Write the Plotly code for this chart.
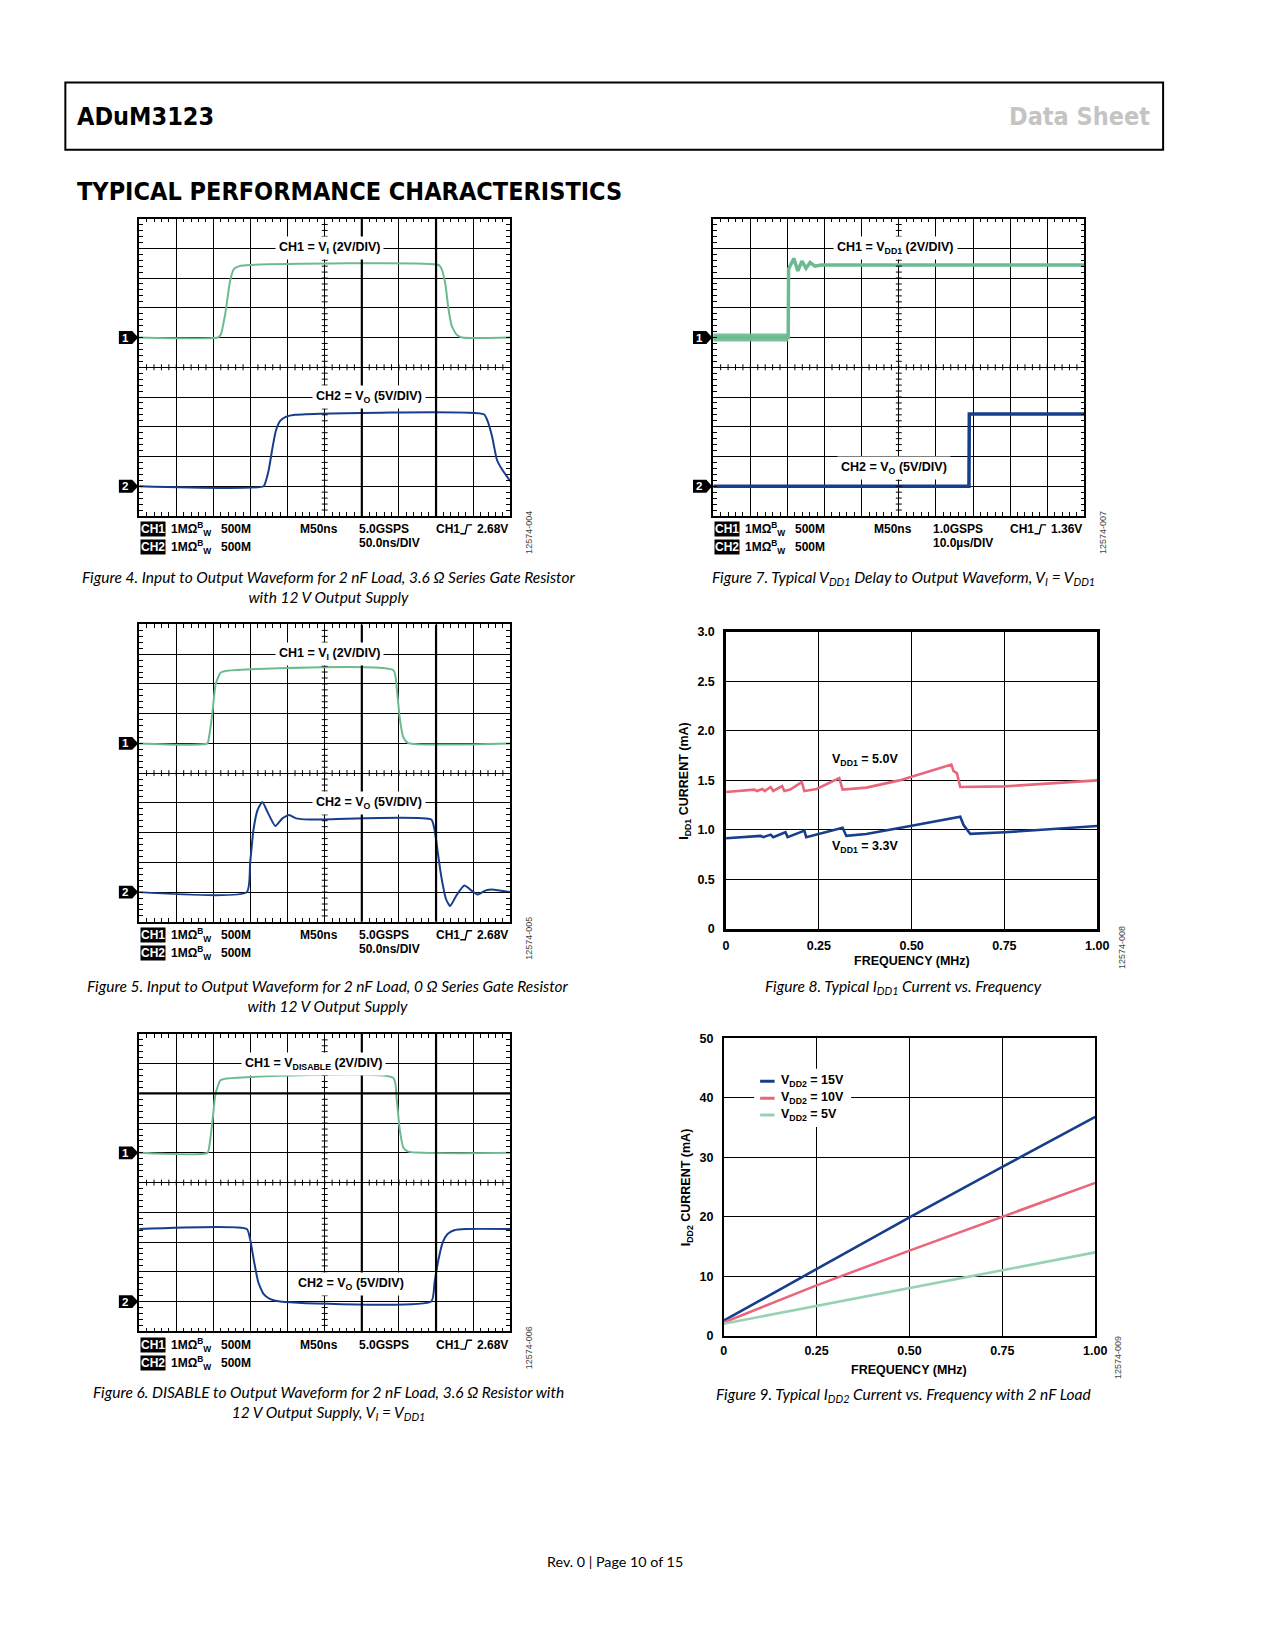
"""ADuM3123 data sheet page 10: typical performance characteristics (Plotly)."""

import numpy as np
import plotly.graph_objects as go

PAGE_W, PAGE_H = 1275, 1650
BODY = 8  # default <body> margin of the exported page
W, H = PAGE_W - 2 * BODY, PAGE_H - 2 * BODY

# --------------------------------------------------------------------------- #
# Data — scope traces are in screen divisions (10 x 10 graticule, 0 = bottom)
# --------------------------------------------------------------------------- #
F4_CH1_T = [0, 2.12, 2.2, 2.32, 2.45, 2.55, 2.7, 3.0, 8.07, 8.15, 8.25, 8.33, 8.42, 8.55, 8.7, 10]
F4_CH1_V = [6.0, 6.0, 6.1, 6.8, 7.9, 8.3, 8.4, 8.44, 8.44, 8.3, 7.8, 7.0, 6.4, 6.1, 6.0, 6.0]
F4_CH2_T = [0, 3.35, 3.42, 3.5, 3.58, 3.68, 3.8, 3.95, 4.2, 9.29, 9.38, 9.51, 9.64, 9.78, 10]
F4_CH2_V = [1.0, 1.0, 1.2, 1.6, 2.2, 2.85, 3.2, 3.33, 3.4, 3.42, 3.22, 2.67, 1.89, 1.56, 1.17]

F5_CH1_T = [0, 1.84, 1.88, 1.97, 2.06, 2.19, 2.37, 6.85, 6.94, 7.02, 7.12, 7.25, 10]
F5_CH1_V = [6.0, 6.0, 6.2, 6.98, 7.98, 8.37, 8.44, 8.46, 7.87, 6.87, 6.2, 6.01, 6.0]
F5_CH2_T = [0, 2.9, 2.99, 3.08, 3.19, 3.32, 3.48, 3.67, 3.86, 4.04, 4.23, 4.6,
            7.87, 7.96, 8.05, 8.14, 8.27, 8.38, 8.54, 8.76, 8.98, 9.11, 9.34, 9.51, 10]
F5_CH2_V = [1.0, 1.0, 1.98, 3.09, 3.76, 4.03, 3.64, 3.22, 3.48, 3.59, 3.48, 3.44,
            3.44, 3.09, 2.31, 1.53, 0.76, 0.53, 0.87, 1.22, 1.03, 0.92, 1.06, 1.09, 1.0]

F6_CH1_T = [0, 1.84, 1.9, 1.97, 2.06, 2.19, 2.37, 6.85, 6.94, 7.02, 7.12, 7.25, 10]
F6_CH1_V = [6.0, 6.0, 6.3, 7.0, 8.0, 8.44, 8.5, 8.52, 7.8, 6.8, 6.17, 6.04, 6.0]
F6_CH2_T = [0, 2.9, 2.99, 3.1, 3.21, 3.35, 3.52, 3.8, 7.87, 7.96, 8.05, 8.18, 8.31, 8.49, 8.8, 10]
F6_CH2_V = [3.44, 3.44, 3.1, 2.32, 1.65, 1.26, 1.09, 1.0, 1.0, 1.65, 2.32, 2.99, 3.27, 3.4, 3.44, 3.44]

F7_CH1_T = [0, 2.02, 2.03, 2.17, 2.28, 2.39, 2.5, 2.61, 2.74, 2.9, 10]
F7_CH1_V = [6.0, 6.0, 8.3, 8.66, 8.24, 8.57, 8.33, 8.52, 8.4, 8.44, 8.44]
F7_CH2_T = [0, 6.89, 6.9, 10]
F7_CH2_V = [1.0, 1.0, 3.43, 3.43]

CH_REF = [6.0, 1.0]  # ground-reference marker levels for CH1 / CH2

# Figure 8 — IDD1 vs frequency
F8_FREQ_5V = [0, 0.022, 0.058, 0.076, 0.083, 0.098, 0.104, 0.12, 0.127, 0.151, 0.157, 0.173,
              0.204, 0.211, 0.244, 0.305, 0.314, 0.378, 0.467, 0.5, 0.555, 0.607, 0.613,
              0.622, 0.631, 0.751, 1.0]
F8_IDD1_5V = [1.383, 1.39, 1.397, 1.407, 1.393, 1.413, 1.393, 1.433, 1.393, 1.443, 1.393, 1.407,
              1.483, 1.393, 1.413, 1.523, 1.407, 1.427, 1.50, 1.54, 1.60, 1.66, 1.593,
              1.573, 1.433, 1.44, 1.5]
F8_FREQ_33V = [0, 0.058, 0.093, 0.1, 0.12, 0.127, 0.16, 0.166, 0.211, 0.216, 0.314, 0.324,
               0.378, 0.5, 0.631, 0.64, 0.658, 0.751, 1.0]
F8_IDD1_33V = [0.917, 0.927, 0.94, 0.927, 0.953, 0.927, 0.977, 0.927, 0.993, 0.927, 1.023, 0.94,
               0.96, 1.043, 1.133, 1.05, 0.96, 0.977, 1.04]

# Figure 9 — IDD2 vs frequency, 2 nF load
F9_FREQ = [0, 0.25, 0.5, 0.75, 1.0]
F9_IDD2_15V = [2.5, 11.2, 19.9, 28.4, 36.8]
F9_IDD2_10V = [2.2, 8.45, 14.3, 20.0, 25.7]
F9_IDD2_5V = [2.0, 5.0, 8.06, 11.0, 14.0]

GREEN = "#6cbb90"
NAVY = "#173e8c"
PINK = "#e8677b"
LIGHT_GREEN = "#98d2b4"

ARIAL = "Liberation Sans, Arial, sans-serif"
MYRIAD = "Lato, Open Sans, sans-serif"
CONDENSED = "Liberation Sans Narrow, DejaVu Sans Condensed, Arial Narrow, sans-serif"


def px(x):
    """Page pixel (x) -> paper fraction of the figure."""
    return (x - BODY) / W


def py(y):
    """Page pixel (y, downwards) -> paper fraction of the figure."""
    return 1 - (y - BODY) / H


def keys(n):
    s = "" if n == 1 else str(n)
    return f"xaxis{s}", f"yaxis{s}", f"x{s}", f"y{s}"


fig = go.Figure()
shapes, notes = [], []
layout = dict(
    width=W, height=H, autosize=False, margin=dict(l=0, r=0, t=0, b=0),
    paper_bgcolor="white", plot_bgcolor="white", showlegend=False,
    font=dict(family=ARIAL, color="black"),
)


def text(x, y, s, size=12, bold=True, family=ARIAL, color="black", xanchor="left", **kw):
    notes.append(dict(
        x=px(x), y=py(y), xref="paper", yref="paper", text=s, showarrow=False,
        xanchor=xanchor, yanchor=kw.pop("yanchor", "middle"),
        font=dict(family=family, size=size, color=color, weight="bold" if bold else "normal"),
        **kw,
    ))


# --------------------------------------------------------------------------- #
# Oscilloscope panels
# --------------------------------------------------------------------------- #
SCOPE_W, SCOPE_H = 375.6, 300.0
DIV_X, DIV_Y = SCOPE_W / 10, SCOPE_H / 10

scopes = [
    dict(n=1, left=137.7, top=213.3, ch1=(F4_CH1_T, F4_CH1_V), ch2=(F4_CH2_T, F4_CH2_V),
         l1="CH1 = V<sub>I</sub> (2V/DIV)", p1=(5.12, 9.0), l2="CH2 = V<sub>O</sub> (5V/DIV)", p2=(6.18, 4.0),
         rate="5.0GSPS", per_div="50.0ns/DIV", trig="2.68V", fid="12574-004", thick=True, width=2.0),
    dict(n=2, left=718.7, top=213.3, ch1=(F7_CH1_T, F7_CH1_V), ch2=(F7_CH2_T, F7_CH2_V),
         l1="CH1 = V<sub>DD1</sub> (2V/DIV)", p1=(4.9, 9.0), l2="CH2 = V<sub>O</sub> (5V/DIV)", p2=(4.88, 1.6),
         rate="1.0GSPS", per_div="10.0µs/DIV", trig="1.36V", fid="12574-007", thick=False, width=3.5),
    dict(n=3, left=137.7, top=622.7, ch1=(F5_CH1_T, F5_CH1_V), ch2=(F5_CH2_T, F5_CH2_V),
         l1="CH1 = V<sub>I</sub> (2V/DIV)", p1=(5.13, 9.0), l2="CH2 = V<sub>O</sub> (5V/DIV)", p2=(6.19, 4.0),
         rate="5.0GSPS", per_div="50.0ns/DIV", trig="2.68V", fid="12574-005", thick=True, width=2.0),
    dict(n=5, left=137.7, top=1035.7, ch1=(F6_CH1_T, F6_CH1_V), ch2=(F6_CH2_T, F6_CH2_V),
         l1="CH1 = V<sub>DISABLE</sub> (2V/DIV)", p1=(4.71, 9.0), l2="CH2 = V<sub>O</sub> (5V/DIV)", p2=(5.71, 1.6),
         rate="5.0GSPS", per_div="", trig="2.68V", fid="12574-006", thick=True, width=2.0),
]

for sc in scopes:
    xk, yk, xr, yr = keys(sc["n"])
    left, top = sc["left"], sc["top"]
    bottom = top + SCOPE_H
    common = dict(
        range=[0, 10], dtick=1, tick0=0, showgrid=True, gridcolor="black", gridwidth=1,
        zeroline=False, showline=True, linecolor="black", linewidth=1.6, mirror="ticks",
        ticks="inside", ticklen=4, tickcolor="black", tickwidth=1, showticklabels=False,
        minor=dict(dtick=0.2, ticks="inside", ticklen=4, tickcolor="black", tickwidth=1, showgrid=False),
        fixedrange=True,
    )
    layout[xk] = dict(domain=[px(left), px(left + SCOPE_W)], anchor=yr, **common)
    layout[yk] = dict(domain=[py(bottom), py(top)], anchor=xr, **common)

    # ticks on the centre cross-hair
    steps = np.arange(0.2, 10, 0.2)
    path_v = "".join(f"M{5 - 0.08:.2f},{s:.2f}L{5 + 0.08:.2f},{s:.2f}" for s in steps)
    path_h = "".join(f"M{s:.2f},{5 - 0.1:.2f}L{s:.2f},{5 + 0.1:.2f}" for s in steps)
    for p in (path_v, path_h):
        shapes.append(dict(type="path", path=p, xref=xr, yref=yr, line=dict(color="black", width=1)))
    if sc["thick"]:  # heavier graticule lines seen in the scans
        for gx in (6, 8):
            shapes.append(dict(type="line", x0=gx, x1=gx, y0=0, y1=10, xref=xr, yref=yr,
                               line=dict(color="black", width=2.2)))
    if sc["n"] == 5:
        shapes.append(dict(type="line", x0=0, x1=10, y0=8, y1=8, xref=xr, yref=yr,
                           line=dict(color="black", width=2.2)))

    (t1, v1), (t2, v2) = sc["ch1"], sc["ch2"]
    smooth = "linear" if sc["n"] == 2 else "spline"
    if sc["n"] == 2:  # noisy pre-step supply band
        fig.add_trace(go.Scatter(x=t1[:2], y=v1[:2], mode="lines", xaxis=xr, yaxis=yr, hoverinfo="skip",
                                 opacity=0.9, line=dict(color=GREEN, width=8)))
    fig.add_trace(go.Scatter(x=t1, y=v1, mode="lines", xaxis=xr, yaxis=yr, hoverinfo="skip",
                             line=dict(color=GREEN, width=sc["width"], shape=smooth, smoothing=0.5)))
    fig.add_trace(go.Scatter(x=t2, y=v2, mode="lines", xaxis=xr, yaxis=yr, hoverinfo="skip",
                             line=dict(color=NAVY, width=sc["width"], shape=smooth, smoothing=0.5)))

    for label, (lx, ly) in ((sc["l1"], sc["p1"]), (sc["l2"], sc["p2"])):
        notes.append(dict(x=lx, y=ly, xref=xr, yref=yr, text=label, showarrow=False, bgcolor="white",
                          borderpad=3, font=dict(family=ARIAL, size=12.5, weight="bold")))

    # channel ground markers
    for num, lvl in zip(("1", "2"), CH_REF):
        yc = bottom - lvl * DIV_Y
        x0, x1, x2 = left - 20.5, left - 7, left - 1
        shapes.append(dict(
            type="path", xref="paper", yref="paper", fillcolor="black", line=dict(color="black", width=0),
            path=(f"M{px(x0)},{py(yc - 6.5)}L{px(x1)},{py(yc - 6.5)}L{px(x2)},{py(yc)}"
                  f"L{px(x1)},{py(yc + 6.5)}L{px(x0)},{py(yc + 6.5)}Z"),
        ))
        text(left - 14, yc, num, size=11.5, color="white", xanchor="center")

    # acquisition settings below the graticule
    r1, r2 = bottom + 13.5, bottom + 31.5
    for yrow, ch in ((r1, "CH1"), (r2, "CH2")):
        text(left + 0.5, yrow, ch, size=12, color="white", bgcolor="black", borderpad=0)
        text(left + 30, yrow, "1MΩ<sup>B</sup><sub>W</sub>", size=12)
        text(left + 81, yrow, "500M", size=12)
    text(left + 161, r1, "M50ns", size=12)
    text(left + 220, r1, sc["rate"], size=12)
    if sc["per_div"]:
        text(left + 220, r1 + 14, sc["per_div"], size=12)
    text(left + 298, r1, "CH1", size=12)
    gx = left + 325
    shapes.append(dict(
        type="path", xref="paper", yref="paper", line=dict(color="black", width=1.4),
        path=(f"M{px(gx)},{py(r1 + 4.5)}L{px(gx + 5)},{py(r1 + 4.5)}"
              f"L{px(gx + 7)},{py(r1 - 4.5)}L{px(gx + 12)},{py(r1 - 4.5)}"),
    ))
    text(left + SCOPE_W, r1, sc["trig"], size=12, xanchor="right")
    text(left + SCOPE_W + 19, bottom + 17, sc["fid"], size=9, bold=False, color="#444",
         xanchor="center", textangle=-90)

# --------------------------------------------------------------------------- #
# Figure 8 / Figure 9 — current vs frequency
# --------------------------------------------------------------------------- #
XTICKS = [0, 0.25, 0.5, 0.75, 1.0]
XTEXT = ["0", "0.25", "0.50", "0.75", "1.00"]


def line_axes(n, left, top, right, bottom, yrange, ydtick, ytext, frame):
    xk, yk, xr, yr = keys(n)
    tickfont = dict(family=ARIAL, size=12.5, weight="bold")
    common = dict(showgrid=True, gridcolor="black", gridwidth=1.2, zeroline=False, showline=True,
                  linecolor="black", linewidth=frame, mirror=True, ticks="", tickfont=tickfont,
                  fixedrange=True)
    layout[xk] = dict(domain=[px(left), px(right)], range=[0, 1], anchor=yr, tickvals=XTICKS,
                      ticktext=XTEXT, ticklabelstandoff=3, **common)
    yvals = list(np.arange(yrange[0], yrange[1] + ydtick / 2, ydtick))
    layout[yk] = dict(domain=[py(bottom), py(top)], range=yrange, anchor=xr, tickvals=yvals,
                      ticktext=ytext, ticklabelstandoff=6, **common)
    return xr, yr


x4, y4 = line_axes(4, 731.7, 630, 1107.3, 930, [0, 3], 0.5,
                   ["0", "0.5", "1.0", "1.5", "2.0", "2.5", "3.0"], 2.6)
fig.add_trace(go.Scatter(x=F8_FREQ_5V, y=F8_IDD1_5V, mode="lines", xaxis=x4, yaxis=y4, hoverinfo="skip",
                         line=dict(color=PINK, width=2.6)))
fig.add_trace(go.Scatter(x=F8_FREQ_33V, y=F8_IDD1_33V, mode="lines", xaxis=x4, yaxis=y4, hoverinfo="skip",
                         line=dict(color=NAVY, width=2.6)))
for lbl, yy in (("V<sub>DD1</sub> = 5.0V", 1.71), ("V<sub>DD1</sub> = 3.3V", 0.83)):
    notes.append(dict(x=0.375, y=yy, xref=x4, yref=y4, text=lbl, showarrow=False,
                      font=dict(family=ARIAL, size=12.5, weight="bold")))
text(690.5, 780, "I<sub>DD1</sub> CURRENT (mA)", size=12.5, xanchor="center", textangle=-90)
text(919.5, 962.5, "FREQUENCY (MHz)", size=12.5, xanchor="center")
text(1132.5, 949, "12574-008", size=9, bold=False, color="#444", xanchor="center", textangle=-90)

x6, y6 = line_axes(6, 729.3, 1040.3, 1105.3, 1340, [0, 50], 10,
                   ["0", "10", "20", "30", "40", "50"], 1.5)
series9 = [("15V", F9_IDD2_15V, NAVY), ("10V", F9_IDD2_10V, PINK), ("5V", F9_IDD2_5V, LIGHT_GREEN)]
for name, vals, col in series9:
    fig.add_trace(go.Scatter(x=F9_FREQ, y=vals, mode="lines", xaxis=x6, yaxis=y6, hoverinfo="skip",
                             line=dict(color=col, width=2.6)))
# hand-drawn legend box
shapes.append(dict(type="rect", x0=0.082, x1=0.343, y0=35.1, y1=44.9, xref=x6, yref=y6,
                   fillcolor="white", line=dict(width=0), layer="above"))
for i, (name, vals, col) in enumerate(series9):
    ly = 42.8 - i * 2.85
    shapes.append(dict(type="line", x0=0.098, x1=0.137, y0=ly, y1=ly, xref=x6, yref=y6,
                       line=dict(color=col, width=3), layer="above"))
    notes.append(dict(x=0.148, y=ly, xref=x6, yref=y6, xanchor="left", showarrow=False,
                      text=f"V<sub>DD2</sub> = {name}", font=dict(family=ARIAL, size=12.5, weight="bold")))
text(692.5, 1190, "I<sub>DD2</sub> CURRENT (mA)", size=12.5, xanchor="center", textangle=-90)
text(917.3, 1375, "FREQUENCY (MHz)", size=12.5, xanchor="center")
text(1129, 1362, "12574-009", size=9, bold=False, color="#444", xanchor="center", textangle=-90)

# --------------------------------------------------------------------------- #
# Page furniture: header, section title, captions, footer
# --------------------------------------------------------------------------- #
shapes.append(dict(type="rect", x0=px(63), x1=px(1174), y0=py(76), y1=py(144), xref="paper", yref="paper",
                   line=dict(color="black", width=2)))
text(73, 110, "ADuM3123", size=25, family=CONDENSED)
text(1163, 110, "Data Sheet", size=25, family=CONDENSED, color="#c4c4c4", xanchor="right")
text(73, 186, "TYPICAL PERFORMANCE CHARACTERISTICS", size=25, family=CONDENSED)

captions = [
    (329, 584.5, "Figure 4. Input to Output Waveform for 2 nF Load, 3.6 Ω Series Gate Resistor<br>"
                 "with 12 V Output Supply"),
    (329, 997, "Figure 5. Input to Output Waveform for 2 nF Load, 0 Ω Series Gate Resistor<br>"
               "with 12 V Output Supply"),
    (329, 1407.5, "Figure 6. DISABLE to Output Waveform for 2 nF Load, 3.6 Ω Resistor with<br>"
                  "12 V Output Supply, V<sub>I</sub> = V<sub>DD1</sub>"),
    (911, 575.5, "Figure 7. Typical V<sub>DD1</sub> Delay to Output Waveform, V<sub>I</sub> = V<sub>DD1</sub>"),
    (911, 988, "Figure 8. Typical I<sub>DD1</sub> Current vs. Frequency"),
    (911, 1400, "Figure 9. Typical I<sub>DD2</sub> Current vs. Frequency with 2 nF Load"),
]
for cx, cy, cap in captions:
    text(cx, cy, f"<i>{cap}</i>", size=15.5, bold=False, family=MYRIAD, xanchor="center")

text(619, 1568, "Rev. 0 | Page 10 of 15", size=14.3, bold=False, family=MYRIAD, xanchor="center")

layout["shapes"] = shapes
layout["annotations"] = notes
fig.update_layout(**layout)
fig.write_html("out.html")
